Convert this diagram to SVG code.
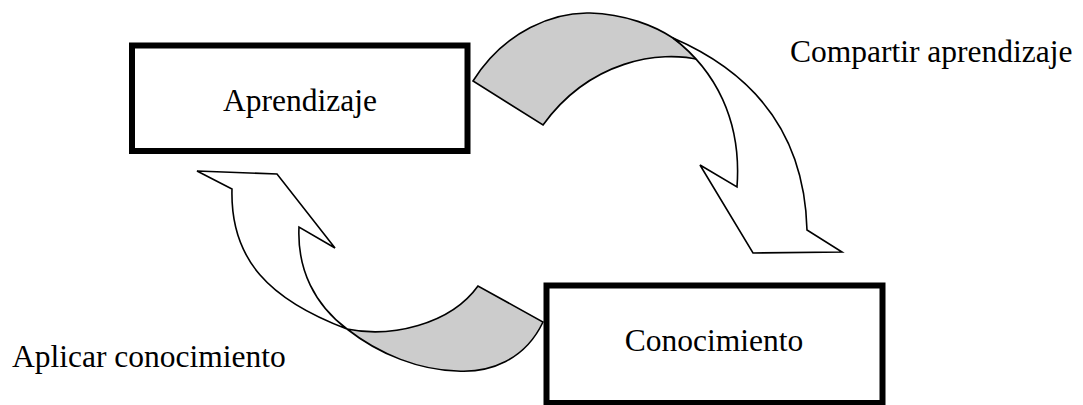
<svg xmlns="http://www.w3.org/2000/svg" width="1083" height="405" viewBox="0 0 1083 405">
<style>
  .box { fill: #ffffff; stroke: #000000; stroke-width: 6; }
  .lbl { font-family: "Liberation Serif", "Times New Roman", serif; font-size: 31.5px; fill: #000000; }
  .back { fill: #cccccc; stroke: #000000; stroke-width: 1.6; stroke-linejoin: miter; }
  .front { fill: #ffffff; stroke: #000000; stroke-width: 1.6; stroke-linejoin: miter; }
</style>
<rect width="1083" height="405" fill="#ffffff"/>
<g id="connectors">
  <g id="arrow-compartir">
    <path class="back" d="M 473,81 C 505,30 555,12 590,13 C 625,14 655,26 673,38 C 685,46 694,53 700,60 C 660,50 590,60 543,125 Z"/>
    <path class="front" d="M 673,38 C 770,80 805,150 807,230 L 842,252 L 753,253 L 700,165 L 737,187 C 742,120 715,70 673,38 Z"/>
  </g>
  <g id="arrow-aplicar">
    <path class="back" d="M 347,329 C 390,338 450,325 478,286 L 543,322 C 525,360 490,373 457,371 C 420,370 380,355 347,329 Z"/>
    <path class="front" d="M 347,329 C 270,300 230,260 232,189 L 197,171 L 277,174 L 335,248 L 299,227 C 297,270 315,305 347,329 Z"/>
  </g>
</g>
<g id="node-aprendizaje">
  <rect class="box" x="132" y="45.5" width="335.5" height="105.5"/>
  <text class="lbl" x="300" y="111" text-anchor="middle">Aprendizaje</text>
</g>
<g id="node-conocimiento">
  <rect class="box" x="546.5" y="285.5" width="336" height="117.5"/>
  <text class="lbl" x="714" y="351" text-anchor="middle">Conocimiento</text>
</g>
<g id="label-compartir">
  <text class="lbl" x="790" y="62">Compartir aprendizaje</text>
</g>
<g id="label-aplicar">
  <text class="lbl" x="12" y="367">Aplicar conocimiento</text>
</g>
</svg>
